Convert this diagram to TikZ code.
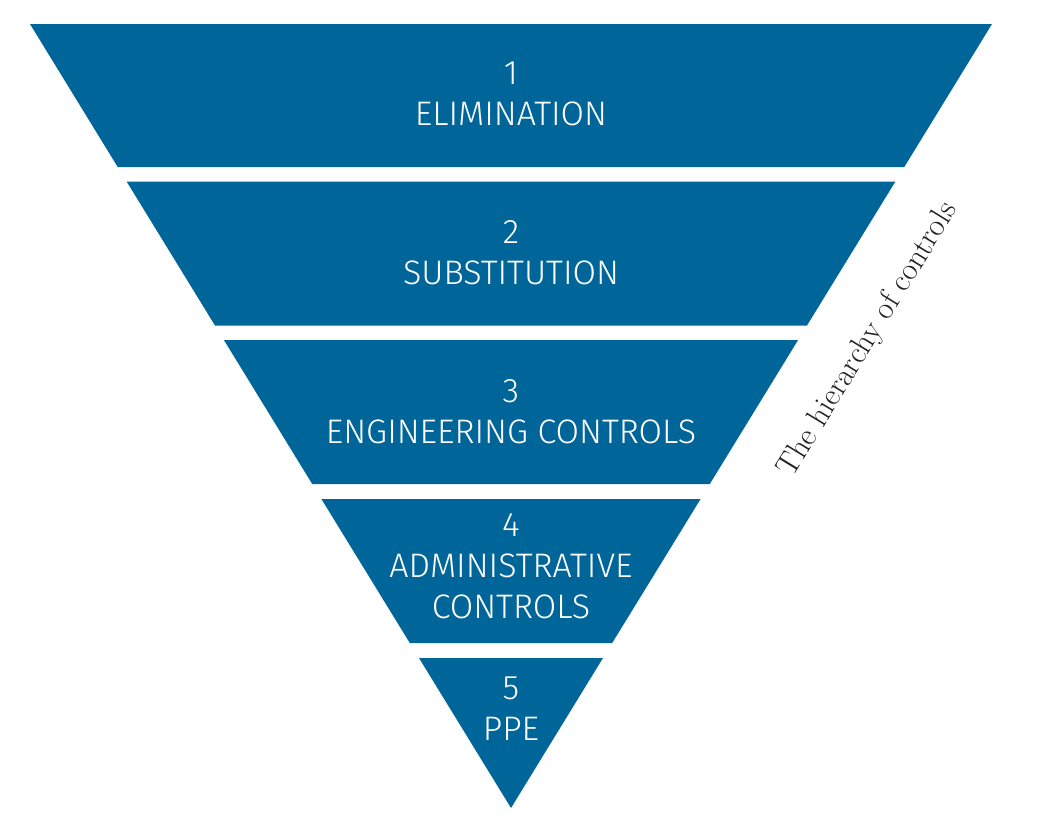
\documentclass[tikz,border=0pt]{standalone}
\usepackage{fontspec}
\usepackage{tikz}
\usetikzlibrary{positioning}
\newfontfamily\firasans{Fira Sans}[UprightFont=* Light]
\definecolor{hocblue}{RGB}{0,102,153}
\definecolor{hocgrey}{RGB}{35,35,35}

\begin{document}
\begin{tikzpicture}[x=1pt, y=-1pt,
      band/.style={fill=hocblue},
      lvl/.style={text=white, align=center, inner sep=0pt, font=\firasans\fontsize{34}{41}\selectfont},
      side/.style={text=hocgrey, inner sep=0pt, font=\fontsize{31.5}{36}\selectfont}]
      \useasboundingbox (0,0) rectangle (1037,838);
      \fill[band] (30,24) -- (992,24) -- (904.3,167) -- (117.7,167) -- cycle;
      \fill[band] (126.6,181.5) -- (895.4,181.5) -- (807,325.5) -- (215,325.5) -- cycle;
      \fill[band] (223.9,340) -- (798.1,340) -- (709.8,484) -- (312.2,484) -- cycle;
      \fill[band] (321.4,499) -- (700.6,499) -- (612.2,643) -- (409.8,643) -- cycle;
      \fill[band] (419,658) -- (603,658) -- (511,808) -- cycle;
      \node[lvl] (l1) at (511,94) {1\\ELIMINATION};
      \node[lvl] (l2) at (511,253) {2\\SUBSTITUTION};
      \node[lvl] (l3) at (511,412) {3\\ENGINEERING CONTROLS};
      \node[lvl] (l4) at (511,566) {4\\ADMINISTRATIVE\\CONTROLS};
      \node[lvl] (l5) at (511,709) {5\\PPE};
      \node[side, rotate=58.5] (hoc) at (868,340) {The hierarchy of controls};
    \end{tikzpicture}
\end{document}
